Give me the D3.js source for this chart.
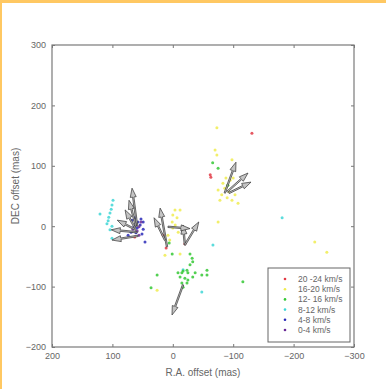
<!DOCTYPE html>
<html><head><meta charset="utf-8">
<script src="https://cdn.jsdelivr.net/npm/d3@7"></script>
<style>body{margin:0;background:#fff}svg{display:block}</style>
</head><body>
<script>
const xTicks = [200, 100, 0, -100, -200, -300];
const yTicks = [300, 200, 100, 0, -100, -200];
const legendLabels = ["20 -24 km/s", "16-20 km/s", "12- 16 km/s", "8-12 km/s", "4-8 km/s", "0-4 km/s"];
const seriesColors = ["#e23a45", "#f0ec50", "#35c835", "#3fd6d6", "#2a2ab8", "#6a2a96"];

const red = [[16,-15],[11,-36],[-20,-29],[63,-18],[-62,85],[-63,81],[-131,154]];
const yellow = [[-3.6,27],[0,18.5],[-7,14],[1,7],[-4,2],[0,-3],[-9,-10],[8,-15],[5,-23],[13,-48],[-12,-46],[-75,7],[-12,27],[26,-106],
  [-73,163],[-70,126],[-73,118],[-98,110],[-83,71],[-86,63],[-91,68],[-95,76],[-100,80],[-81,52],[-75,60],[-90,47],[-98,43],[-108,38],[-103,52],[-78,43],[-93,57],[-88,80],
  [-235,-26],[-255,-43]];
const green = [[6,-28],[1,-46],[-28.5,-46],[-32,-53],[-33,-59],[-28.5,-64],[-23.5,-73],[-17,-74],[-15,-77],[-8.6,-77],[-25,-77],[-37,-77],[-48,-81],[-56.6,-73],[-56.6,-81],[-12,-84],[-20,-86],[-15,-94],[-23.5,-94],[-17,-101],[26,-81],[36,-102],[-25,-89],[-33,-84],[-116,-92],[-66,105],[-75,96],[-91,68]];
const cyan = [[99,43],[100.7,35],[102,28],[104,22],[106,15],[107,9],[109,4],[120.5,20],[100.7,0],[104,-6],[100.7,-20],[-17,-72],[-48,-109],[-66.5,-31],[-181,14]];
const blue = [[67.5,10],[62.6,14],[57.6,7],[52.7,12],[64,0],[59,-3],[54,2],[49,-5],[69,-10],[61,-11],[51,-13],[46,-26],[74,-15],[49,7]];
const purple = [[61,4],[56,-1],[66,-5],[59,-8],[52.7,7],[56,-15]];

// velocity vectors: start and end in mas
const vecStart = [[59,0],[61,0],[62.6,-3],[61,-6],[59,-10],[57.6,-16],[9.6,-34],[13,-23],[-20,-31],[-20,-31],[8,-1],[-17,-97],[-86,55],[-90,57],[-93,55]];
const vecEnd = [[67.5,63],[72.5,43],[79,27],[92,10],[102,-6],[100.7,-23],[21,30],[31,14],[-17,2],[-43,7],[-28.5,-4],[1.3,-147],[-104.6,106],[-124.5,88],[-129.5,73]];

const W = 386, H = 389;
const svg = d3.select("body").append("svg").attr("width", W).attr("height", H);
svg.append("rect").attr("width", W).attr("height", H).attr("fill", "#fff");
svg.append("rect").attr("x", 0).attr("y", 0).attr("width", W).attr("height", 3).attr("fill", "#ffc862");
svg.append("rect").attr("x", 0).attr("y", 0).attr("width", 2).attr("height", H).attr("fill", "#ffc862");

const L = 52, R = 354, T = 45, B = 347;
const x = d3.scaleLinear().domain([200, -300]).range([L, R]);
const y = d3.scaleLinear().domain([-200, 300]).range([B, T]);
const font = "'Liberation Sans', Arial, sans-serif";

const g = svg.append("g");
const axB = g.append("g").attr("transform", `translate(0,${B})`).call(d3.axisBottom(x).tickValues(xTicks).tickSizeInner(-3).tickSizeOuter(0).tickPadding(6));
const axT = g.append("g").attr("transform", `translate(0,${T})`).call(d3.axisTop(x).tickValues(xTicks).tickSizeInner(-3).tickSizeOuter(0).tickFormat(""));
const axL = g.append("g").attr("transform", `translate(${L},0)`).call(d3.axisLeft(y).tickValues(yTicks).tickSizeInner(-3).tickSizeOuter(0).tickPadding(6));
const axR = g.append("g").attr("transform", `translate(${R},0)`).call(d3.axisRight(y).tickValues(yTicks).tickSizeInner(-3).tickSizeOuter(0).tickFormat(""));
[axB, axT, axL, axR].forEach(a => {
  a.select(".domain").remove();
  a.selectAll("line").attr("stroke", "#777");
  a.selectAll("text").attr("fill", "#666").style("font-family", font).style("font-size", "9px");
});
g.append("rect").attr("x", L).attr("y", T).attr("width", R - L).attr("height", B - T)
  .attr("fill", "none").attr("stroke", "#7a7a7a").attr("stroke-width", 1.2);

const series = [red, yellow, green, cyan, blue, purple];
const drawOrder = [3, 1, 2, 4, 5, 0];
drawOrder.forEach(i => {
  g.append("g").selectAll("circle").data(series[i]).join("circle")
    .attr("cx", d => x(d[0])).attr("cy", d => y(d[1])).attr("r", 1.5)
    .attr("fill", seriesColors[i]).attr("opacity", 0.85);
});

// arrows
const vg = g.append("g");
vecStart.forEach((s, i) => {
  const e = vecEnd[i];
  const x0 = x(s[0]), y0 = y(s[1]), x1 = x(e[0]), y1 = y(e[1]);
  const dx = x1 - x0, dy = y1 - y0, len = Math.hypot(dx, dy);
  const ux = dx / len, uy = dy / len, nx = -uy, ny = ux;
  const hl = Math.min(9, len * 0.45), hw = 3.0, sw = 0.7;
  const bx = x1 - ux * hl, by = y1 - uy * hl;
  const pts = [
    [x0 + nx * sw, y0 + ny * sw], [bx + nx * sw, by + ny * sw], [bx + nx * hw, by + ny * hw],
    [x1, y1], [bx - nx * hw, by - ny * hw], [bx - nx * sw, by - ny * sw], [x0 - nx * sw, y0 - ny * sw]
  ];
  vg.append("polygon").attr("points", pts.map(p => p.join(",")).join(" "))
    .attr("fill", "#c4c4c4").attr("stroke", "#333").attr("stroke-width", 0.7).attr("stroke-linejoin", "miter");
});

svg.append("text").attr("x", (L + R) / 2).attr("y", 376).attr("text-anchor", "middle")
  .attr("fill", "#666").style("font-family", font).style("font-size", "10px").text("R.A. offset (mas)");
svg.append("text").attr("transform", `translate(19,${(T + B) / 2 - 10}) rotate(-90)`).attr("text-anchor", "middle")
  .attr("fill", "#666").style("font-family", font).style("font-size", "10px").text("DEC offset (mas)");

const lg = svg.append("g");
lg.append("rect").attr("x", 268).attr("y", 268).attr("width", 82).attr("height", 74)
  .attr("fill", "#fff").attr("stroke", "#666").attr("stroke-width", 1);
legendLabels.forEach((lab, i) => {
  const yy = 279 + i * 10.2;
  lg.append("circle").attr("cx", 285).attr("cy", yy).attr("r", 1.3).attr("fill", seriesColors[i]);
  lg.append("text").attr("x", 298).attr("y", yy + 3).attr("fill", "#666")
    .style("font-family", font).style("font-size", "8.5px").text(lab);
});
</script>
</body></html>
